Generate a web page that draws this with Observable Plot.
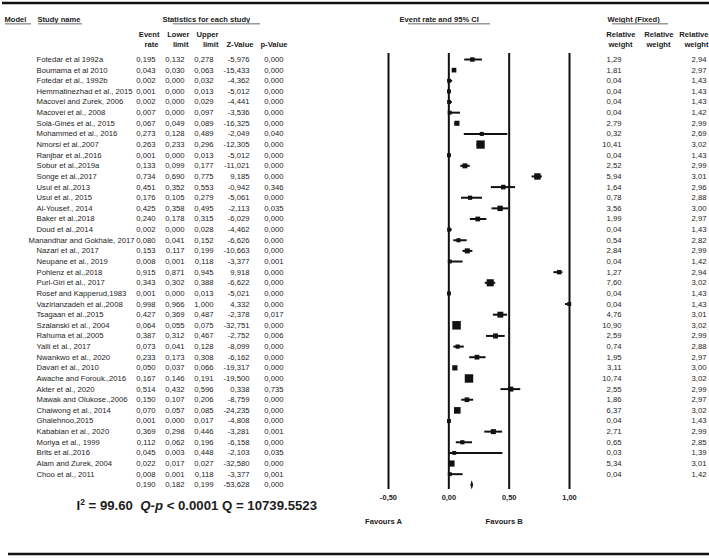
<!DOCTYPE html>
<html><head><meta charset="utf-8">
<script src="https://cdn.jsdelivr.net/npm/d3@7"></script>
<script src="https://cdn.jsdelivr.net/npm/@observablehq/plot@0.6"></script>
<style>html,body{margin:0;padding:0;background:#fff}svg{display:block}</style>
</head><body><div id="chart"></div>
<script>
const studies = ["Fotedar et al 1992a","Boumama et al 2010","Fotedar et al., 1992b","Hemmatinezhad et al., 2015","Macovei and Zurek, 2006","Macovei et al., 2008","Solà-Ginés et al., 2015","Mohammed et al., 2016","Nmorsi et al.,2007","Ranjbar et al.,2016","Sobur et al.,2019a","Songe et al.,2017","Usui et al.,2013","Usui et al., 2015","Al-Yousef., 2014","Baker et al.,2018","Doud et al.,2014","Manandhar and Gokhale, 2017","Nazari et al., 2017","Neupane et al., 2019","Pohlenz et al.,2018","Puri-Giri et al., 2017","Rosef and Kapperud,1983","Vazirianzadeh et al.,2008","Tsagaan et al.,2015","Szalanski et al., 2004","Rahuma et al.,2005","Yalli et al., 2017","Nwankwo et al., 2020","Davari et al., 2010","Awache and Forouk.,2016","Akter et al., 2020","Mawak and Olukose.,2006","Chaiwong et al., 2014","Ghalehnoo,2015","Kababian et al., 2020","Moriya et al., 1999","Brits et al.,2016","Alam and Zurek, 2004","Choo et al., 2011"];
const eventRate = [0.195,0.043,0.002,0.001,0.002,0.007,0.067,0.273,0.263,0.001,0.133,0.734,0.451,0.176,0.425,0.240,0.002,0.080,0.153,0.008,0.915,0.343,0.001,0.998,0.427,0.064,0.387,0.073,0.233,0.050,0.167,0.514,0.150,0.070,0.001,0.369,0.112,0.045,0.022,0.008];
const lowerLimit = [0.132,0.030,0.000,0.000,0.000,0.000,0.049,0.128,0.233,0.000,0.099,0.690,0.352,0.105,0.358,0.178,0.000,0.041,0.117,0.001,0.871,0.302,0.000,0.966,0.369,0.055,0.312,0.041,0.173,0.037,0.146,0.432,0.107,0.057,0.000,0.298,0.062,0.003,0.017,0.001];
const upperLimit = [0.278,0.063,0.032,0.013,0.029,0.097,0.089,0.489,0.296,0.013,0.177,0.775,0.553,0.279,0.495,0.315,0.028,0.152,0.199,0.118,0.945,0.388,0.013,1.000,0.487,0.075,0.467,0.128,0.308,0.066,0.191,0.596,0.206,0.085,0.017,0.446,0.196,0.448,0.027,0.118];
const zValue = [-5.976,-15.433,-4.362,-5.012,-4.441,-3.536,-16.325,-2.049,-12.305,-5.012,-11.021,9.185,-0.942,-5.061,-2.113,-6.029,-4.462,-6.626,-10.663,-3.377,9.918,-6.622,-5.021,4.332,-2.378,-32.751,-2.752,-8.099,-6.162,-19.317,-19.500,0.338,-8.759,-24.235,-4.808,-3.281,-6.158,-2.103,-32.580,-3.377];
const pValue = [0.000,0.000,0.000,0.000,0.000,0.000,0.000,0.040,0.000,0.000,0.000,0.000,0.346,0.000,0.035,0.000,0.000,0.000,0.000,0.001,0.000,0.000,0.000,0.000,0.017,0.000,0.006,0.000,0.000,0.000,0.000,0.735,0.000,0.000,0.000,0.001,0.000,0.035,0.000,0.001];
const relWeightFixed = [1.29,1.81,0.04,0.04,0.04,0.04,2.79,0.32,10.41,0.04,2.52,5.94,1.64,0.78,3.56,1.99,0.04,0.54,2.84,0.04,1.27,7.60,0.04,0.04,4.76,10.90,2.59,0.74,1.95,3.11,10.74,2.55,1.86,6.37,0.04,2.71,0.65,0.03,5.34,0.04];
const relWeightRandom = [2.94,2.97,1.43,1.43,1.43,1.42,2.99,2.69,3.02,1.43,2.99,3.01,2.96,2.88,3.00,2.97,1.43,2.82,2.99,1.42,2.94,3.02,1.43,1.43,3.01,3.02,2.99,2.88,2.97,3.00,3.02,2.99,2.97,3.02,1.43,2.99,2.85,1.39,3.01,1.42];
const summaryRate = 0.190, summaryLower = 0.182, summaryUpper = 0.199, summaryZ = -53.628, summaryP = 0.000;
const xTicks = [-0.5, 0, 0.5, 1];
const favoursLabels = ["Favours A", "Favours B"];
const favoursAt = [-0.5, 0.5];
const headerTop = ["Model","Study name","Statistics for each study","Event rate and 95% CI","Weight (Fixed)"];
const colHead1 = ["Event","Lower","Upper","","","Relative","Relative","Relative"];
const colHead2 = ["rate","limit","limit","Z-Value","p-Value","weight","weight","weight"];
const statsParts = ["I", "2", " = 99.60  ", "Q-p", " < 0.0001 Q = 10739.5523"];

const FONT = "'Liberation Sans', Arial, sans-serif";
const FS = 7.7;
const INK = "#1c1c1c";
const NAME_LEFT = 36, NAME_RIGHT = 134;

// measure names so a long one ends before the first number column
const ctx = document.createElement("canvas").getContext("2d");
ctx.font = `${FS}px ${FONT}`;
const rows = studies.map((name, i) => ({i, name, long: NAME_LEFT + ctx.measureText(name).width > NAME_RIGHT, rate: eventRate[i], lo: lowerLimit[i], hi: upperLimit[i], z: zValue[i], p: pValue[i], w1: relWeightFixed[i], w3: relWeightRandom[i]}));
const summary = {i: studies.length, name: "", long: false, rate: summaryRate, lo: summaryLower, hi: summaryUpper, z: summaryZ, p: summaryP};
const allRows = [...rows, summary];
const f3 = v => v.toFixed(3).replace(".", ",");
const f2 = v => v.toFixed(2).replace(".", ",");
const tickFmt = v => v.toFixed(2).replace(".", ",");
const diamond = {draw(c) { c.moveTo(0, -4.6); c.lineTo(1.4, 0); c.lineTo(0, 4.6); c.lineTo(-1.4, 0); c.closePath(); }};

// column right edges (layout)
const numCols = [["rate",155,f3],["lo",184,f3],["hi",213,f3],["z",249,f3],["p",283,f3]];
const head1X = [159,189,218,0,0,635,673,708];
const head2X = [158,188,218,253,287,632,670,708];
const headTopX = [4,37,162,399,607];
const mid = {lineAnchor: "middle"};

const marks = [
  Plot.ruleX(xTicks, {x: d => d, insetTop: 53, insetBottom: 69, stroke: "#111", strokeWidth: 2}),
  Plot.ruleY(rows, {y: "i", x1: "lo", x2: "hi", stroke: "#111", strokeWidth: 2}),
  Plot.dot(rows, {x: "rate", y: "i", r: "w1", symbol: "square", fill: "#111", stroke: null}),
  Plot.dot([summary], {x: "rate", y: "i", symbol: diamond, r: 4, fill: "#111", stroke: null}),
  Plot.text(xTicks, {...mid, x: d => d, frameAnchor: "top", dy: 497, text: tickFmt, fontSize: 7.4, fontWeight: "bold", fill: INK}),
  Plot.text(favoursLabels, {...mid, x: (d, i) => favoursAt[i], frameAnchor: "top", dy: 521, dx: -5, text: d => d, fontSize: 7.6, fontWeight: "bold", fill: INK}),
  Plot.text(allRows.filter(d => !d.long), {y: "i", frameAnchor: "left", dx: NAME_LEFT, text: "name", textAnchor: "start", fontSize: FS, fill: INK}),
  Plot.text(allRows.filter(d => d.long), {y: "i", frameAnchor: "left", dx: NAME_RIGHT, text: "name", textAnchor: "end", fontSize: FS, fill: INK}),
  ...numCols.map(([k, x, fmt]) => Plot.text(allRows, {y: "i", frameAnchor: "left", dx: x, text: d => fmt(d[k]), textAnchor: "end", fontSize: FS, fill: INK})),
  Plot.text(rows, {y: "i", frameAnchor: "left", dx: 621, text: d => f2(d.w1), textAnchor: "end", fontSize: FS, fill: INK}),
  Plot.text(rows, {y: "i", frameAnchor: "left", dx: 706, text: d => f2(d.w3), textAnchor: "end", fontSize: FS, fill: INK}),
  ...headerTop.map((t, k) => Plot.text([t], {...mid, frameAnchor: "top-left", dx: headTopX[k], dy: 19, text: d => d, textAnchor: "start", fontSize: 7.6, fontWeight: "bold", fill: INK})),
  ...colHead1.map((t, k) => Plot.text([t], {...mid, frameAnchor: "top-left", dx: head1X[k], dy: 34, text: d => d, textAnchor: "end", fontSize: 7.6, fontWeight: "bold", fill: INK})),
  ...colHead2.map((t, k) => Plot.text([t], {...mid, frameAnchor: "top-left", dx: head2X[k], dy: 44, text: d => d, textAnchor: "end", fontSize: 7.6, fontWeight: "bold", fill: INK})),
  Plot.text([statsParts.join("")], {...mid, frameAnchor: "top-left", dx: 76, dy: 505, text: d => d, textAnchor: "start", fontSize: 13.2, fontWeight: "bold", fill: INK})
];

const chart = Plot.plot({
  width: 709, height: 558, margin: 0,
  style: {fontFamily: FONT, background: "#fff"},
  x: {type: "linear", domain: [-0.5, 1], range: [388, 569], axis: null},
  y: {type: "linear", domain: [0, studies.length], range: [59, 484.3], axis: null},
  r: {type: "linear", domain: [0, 10.9], range: [2.2, 4.8]},
  marks
});
document.getElementById("chart").append(chart);

const svg = d3.select(chart);
// horizontal frame rules & header underlines (decoration)
svg.append("line").attr("x1", 2).attr("x2", 709).attr("y1", 3).attr("y2", 3).attr("stroke", "#111").attr("stroke-width", 2.5);
svg.append("line").attr("x1", 8).attr("x2", 709).attr("y1", 554).attr("y2", 554).attr("stroke", "#111").attr("stroke-width", 2.5);
[[5, 31], [38, 82], [173, 260], [408, 490], [612, 668]].forEach(([a, b]) => {
  svg.append("line").attr("x1", a).attr("x2", b).attr("y1", 23.8).attr("y2", 23.8).attr("stroke", "#9a9a9a").attr("stroke-width", 1.5);
});
const statsText = statsParts.join("");
svg.selectAll("text").each(function() {
  if (this.textContent === statsText) {
    const t = d3.select(this);
    t.text(null);
    t.append("tspan").text(statsParts[0]);
    t.append("tspan").attr("baseline-shift", "super").attr("font-size", "8.5px").text(statsParts[1]);
    t.append("tspan").style("white-space", "pre").text(statsParts[2]);
    t.append("tspan").attr("font-style", "italic").text(statsParts[3]);
    t.append("tspan").style("white-space", "pre").text(statsParts[4]);
  }
});
</script>
</body></html>
